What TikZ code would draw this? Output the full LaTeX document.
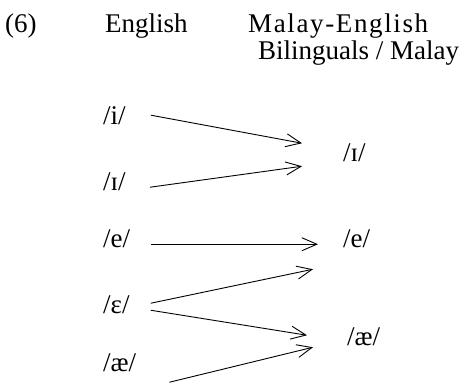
\documentclass[tikz,border=0pt]{standalone}
\usepackage{fontspec}
\setmainfont{Liberation Serif}
\usetikzlibrary{arrows.meta,calc}
\tikzset{
  lbl/.style={font=\fontsize{27}{31}\selectfont, inner sep=0pt, anchor=base west},
  snd/.style={lbl},
  arr/.style={-{Straight Barb[length=15pt,width=13pt]}, line width=0.9pt},
}

\begin{document}
\begin{tikzpicture}[x=1pt,y=-1pt]
  \useasboundingbox (0,0) rectangle (465,383);
  % Headings
  \node[lbl] (num) at (5,32) {(6)};
  \node[lbl] (eng) at (105,32) {English};
  \node[lbl] (mal) at (248,32) {\addfontfeature{LetterSpace=6}Malay-English};
  \node[lbl] (bil) at (258,59) {Bilinguals / Malay};

  % English vowels
  \node[snd] (li)  at (103,124) {/i/};
  \node[snd] (lI)  at (103,190) {/ɪ/};
  \node[snd] (le)  at (103,247) {/e/};
  \node[snd] (lE)  at (103,313) {/ɛ/};
  \node[snd] (lae) at (103,371) {/æ/};

  % Malay-English vowels
  \node[snd] (rI)  at (343,161) {/ɪ/};
  \node[snd] (re)  at (343,247) {/e/};
  \node[snd] (rae) at (347,345) {/æ/};

  % Mergers
  \draw[arr] ($(li.east)+(25,0)$)  -- ($(rI.west)+(-41,-9)$);
  \draw[arr] ($(lI.east)+(24,6)$)  -- ($(rI.west)+(-41,14)$);
  \draw[arr] ($(le.east)+(21,6)$)  -- ($(re.west)+(-25,6)$);
  \draw[arr] ($(lE.east)+(21,-1)$) -- ($(re.west)+(-30,31)$);
  \draw[arr] ($(lE.east)+(21,6)$)  -- ($(rae.west)+(-40,-1)$);
  \draw[arr] ($(lae.east)+(33,20)$) -- ($(rae.west)+(-34,11)$);
\end{tikzpicture}
\end{document}
